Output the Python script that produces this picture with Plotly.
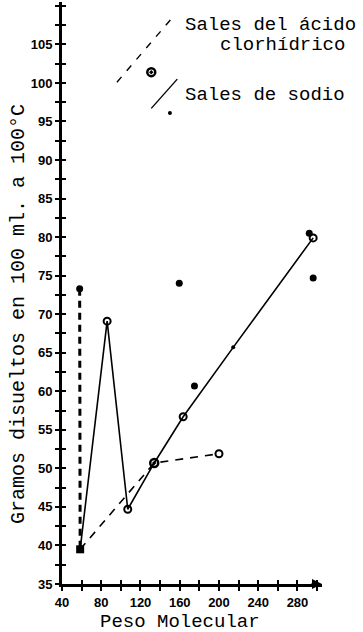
import plotly.graph_objects as go

# ---- data ----
sodio_x = [58.5, 86, 107, 134, 163.5, 214.5, 296]
sodio_y = [39.5, 69.1, 44.7, 50.7, 56.7, 65.7, 79.9]

hcl_x = [58.5, 134, 200]
hcl_y = [39.5, 50.7, 51.9]

vert_x = [58, 58.5]
vert_y = [73.3, 39.5]

filled_x = [58, 159.5, 175, 292, 296]
filled_y = [73.3, 74.0, 60.7, 80.5, 74.7]

open_x = [86, 107, 163.5, 296, 200]
open_y = [69.1, 44.7, 56.7, 79.9, 51.9]

ring_x = [131, 134]
ring_y = [101.4, 50.7]

small_x = [150, 214.5]
small_y = [96.1, 65.7]

square_x = [58.5]
square_y = [39.5]

x_ticks = [40, 80, 120, 160, 200, 240, 280]
y_ticks = [35, 40, 45, 50, 55, 60, 65, 70, 75, 80, 85, 90, 95, 100, 105]
x_minor = list(range(40, 305, 20))
y_minor = [35 + 2.5 * i for i in range(31)]

legend_labels = ["Sales del ácido", "clorhídrico", "Sales de sodio"]
x_title = "Peso Molecular"
y_title = "Gramos disueltos en 100 ml. a 100°C"

mono = "Liberation Mono, Courier New, monospace"
sans = "Liberation Sans, Arial, sans-serif"

fig = go.Figure()
fig.add_trace(go.Scatter(x=sodio_x, y=sodio_y, mode="lines",
                         line=dict(color="black", width=1.6), showlegend=False))
fig.add_trace(go.Scatter(x=hcl_x, y=hcl_y, mode="lines",
                         line=dict(color="black", width=1.6, dash="8px,7px"), showlegend=False))
fig.add_trace(go.Scatter(x=vert_x, y=vert_y, mode="lines",
                         line=dict(color="black", width=3, dash="7px,5px"), showlegend=False))
fig.add_trace(go.Scatter(x=filled_x, y=filled_y, mode="markers",
                         marker=dict(color="black", size=7, symbol="circle"), showlegend=False))
fig.add_trace(go.Scatter(x=open_x, y=open_y, mode="markers",
                         marker=dict(color="black", size=7, symbol="circle-open", line=dict(width=2)),
                         showlegend=False))
fig.add_trace(go.Scatter(x=ring_x, y=ring_y, mode="markers",
                         marker=dict(color="black", size=8, symbol="circle-open-dot", line=dict(width=2.5)),
                         showlegend=False))
fig.add_trace(go.Scatter(x=small_x, y=small_y, mode="markers",
                         marker=dict(color="black", size=4, symbol="circle"), showlegend=False))
fig.add_trace(go.Scatter(x=square_x, y=square_y, mode="markers",
                         marker=dict(color="black", size=8, symbol="square"), showlegend=False))

XR = [40, 305]
YR = [35, 110.5]

axis_common = dict(showgrid=False, zeroline=False, ticklen=4, tickwidth=2, tickcolor="black")
tickfont = dict(family=sans, size=13, color="black", weight="bold")

fig.update_layout(
    width=363, height=632,
    margin=dict(l=62, r=41, t=2, b=48),
    paper_bgcolor="white", plot_bgcolor="white",
    xaxis=dict(range=XR, tickvals=x_ticks, ticks="outside", showline=True, linewidth=3,
               linecolor="black", tickfont=tickfont,
               minor=dict(tickvals=x_minor, ticks="outside", ticklen=4, tickwidth=2, tickcolor="black"),
               **axis_common),
    yaxis=dict(range=YR, tickvals=y_ticks, ticks="outside", showline=True, linewidth=3,
               linecolor="black", tickfont=tickfont,
               minor=dict(tickvals=y_minor, ticks="outside", ticklen=4, tickwidth=2, tickcolor="black"),
               **axis_common),
    xaxis2=dict(range=XR, overlaying="x", anchor="y", side="bottom", tickvals=x_minor, ticks="inside",
                showticklabels=False, showline=False, **axis_common),
    yaxis2=dict(range=YR, overlaying="y", anchor="x", side="left", tickvals=y_minor, ticks="inside",
                showticklabels=False, showline=False, **axis_common),
)
# invisible trace so the overlay tick axes render
fig.add_trace(go.Scatter(x=[XR[0]], y=[YR[0]], xaxis="x2", yaxis="y2", mode="markers",
                         marker=dict(opacity=0), showlegend=False, hoverinfo="skip"))

# axis titles placed like the reference
fig.add_annotation(xref="paper", yref="paper", x=(180 - 62) / 260, y=(584 - 622) / 582,
                   text=x_title, showarrow=False, xanchor="center", yanchor="middle",
                   font=dict(family=mono, size=19, color="black"))
fig.add_annotation(xref="paper", yref="paper", x=(18 - 62) / 260, y=(584 - 314) / 582,
                   text=y_title, showarrow=False, xanchor="center", yanchor="middle", textangle=-90,
                   font=dict(family=mono, size=20, color="black"))

# legend line samples
fig.add_shape(type="line", xref="x", yref="y", x0=96, y0=100.1, x1=152, y1=108.4,
              line=dict(color="black", width=1.4, dash="7px,8px"))
fig.add_shape(type="line", xref="x", yref="y", x0=131, y0=96.7, x1=157.5, y1=100.5,
              line=dict(color="black", width=1.4))

# legend texts
fig.add_annotation(xref="paper", yref="paper", x=(183 - 62) / 260, y=(584 - 25) / 582,
                   text=legend_labels[0], showarrow=False, xanchor="left", yanchor="middle",
                   font=dict(family=mono, size=19, color="black"))
fig.add_annotation(xref="paper", yref="paper", x=(218 - 62) / 260, y=(584 - 45) / 582,
                   text=legend_labels[1], showarrow=False, xanchor="left", yanchor="middle",
                   font=dict(family=mono, size=19, color="black"))
fig.add_annotation(xref="paper", yref="paper", x=(183 - 62) / 260, y=(584 - 95) / 582,
                   text=legend_labels[2], showarrow=False, xanchor="left", yanchor="middle",
                   font=dict(family=mono, size=19, color="black"))

# axis arrowhead
fig.add_annotation(xref="paper", yref="paper", x=1.0, y=0, ax=-12, ay=0, text="",
                   showarrow=True, arrowhead=2, arrowsize=1, arrowwidth=2, arrowcolor="black")

fig.write_html("out.html")
